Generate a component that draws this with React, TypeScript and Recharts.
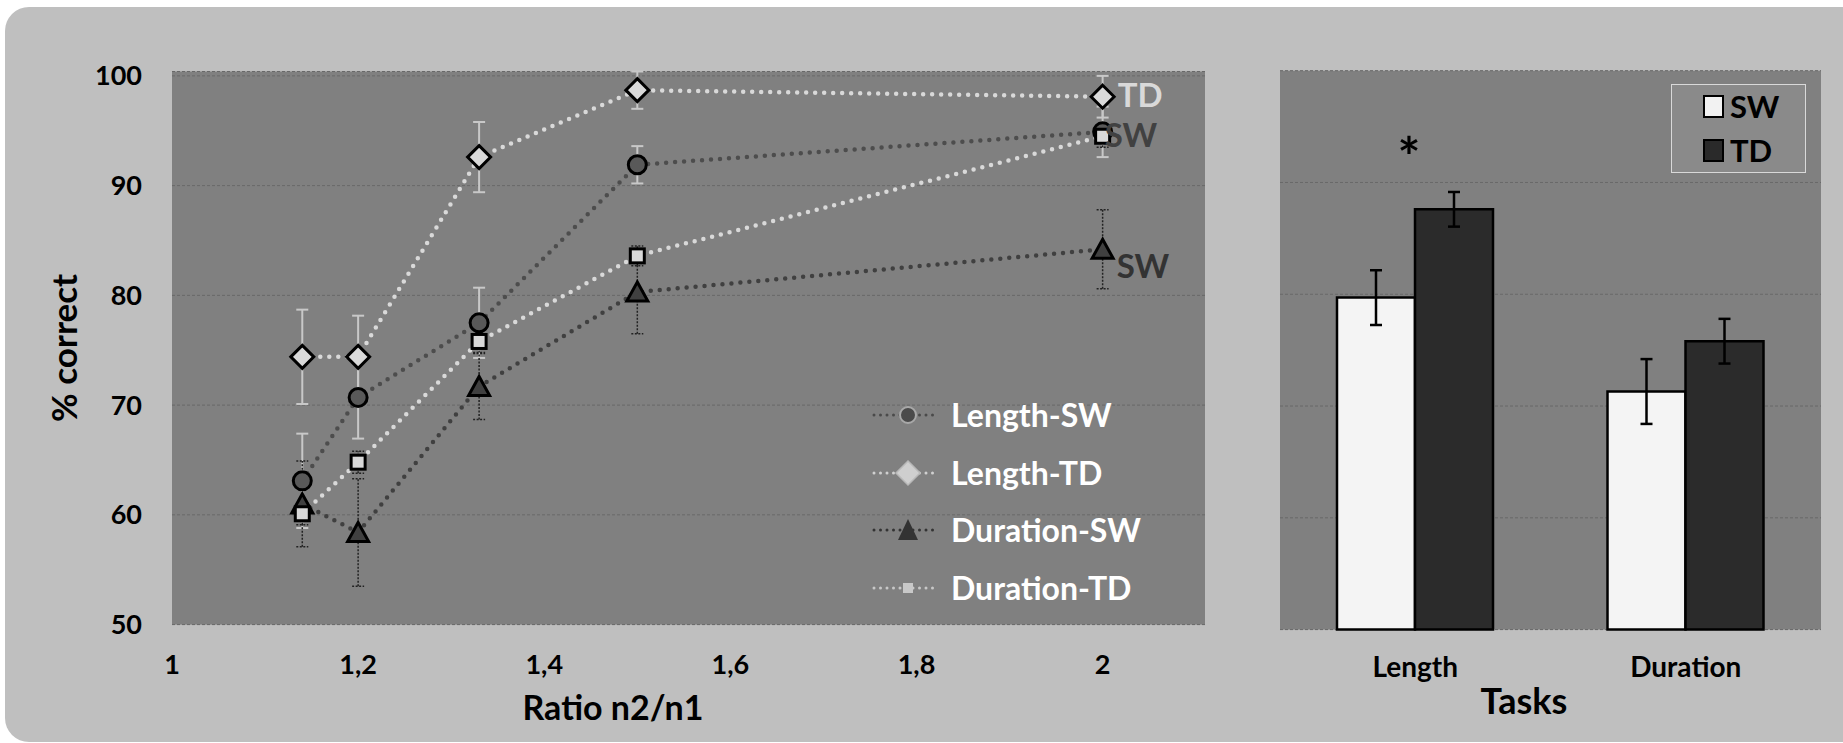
import React from "react";
import {
  LineChart,
  Line,
  BarChart,
  Bar,
  XAxis,
  YAxis,
  CartesianGrid,
  ErrorBar,
  Legend,
  LabelList,
} from "recharts";

// left panel: % correct by ratio n2/n1
const ratios = [1.14, 1.2, 1.33, 1.5, 2];
const lengthSW = [63.1, 70.7, 77.5, 91.9, 94.9];
const lengthSWErr = [4.3, 3.75, 3.2, 1.7, 2.3];
const lengthTD = [74.4, 74.4, 92.6, 98.7, 98.1];
const lengthTDErr = [4.3, 3.75, 3.2, 1.7, 1.9];
const durationSW = [61.0, 58.4, 71.7, 80.3, 84.2];
const durationSWErr = [3.9, 4.9, 3.0, 3.8, 3.6];
const durationTD = [60.1, 64.8, 75.8, 83.6, 94.5];
const durationTDErr = [1.0, 1.0, 1.0, 0.9, 1.0];
const ratioTicks = [1, 1.2, 1.4, 1.6, 1.8, 2];
const pctTicks = [50, 60, 70, 80, 90, 100];
const seriesNames = ["Length-SW", "Length-TD", "Duration-SW", "Duration-TD"];

// right panel: mean by task
const tasks = ["Length", "Duration"];
const taskSW = [79.7, 71.3];
const taskSWErr = [2.45, 2.9];
const taskTD = [87.6, 75.8];
const taskTDErr = [1.55, 2.0];
const groupNames = ["SW", "TD"];

const lineData = ratios.map((r, i) => ({
  ratio: r,
  lengthSW: lengthSW[i],
  lengthSWErr: lengthSWErr[i],
  lengthTD: lengthTD[i],
  lengthTDErr: lengthTDErr[i],
  durationSW: durationSW[i],
  durationSWErr: durationSWErr[i],
  durationTD: durationTD[i],
  durationTDErr: durationTDErr[i],
}));

const barData = tasks.map((t, i) => ({
  task: t,
  sw: taskSW[i],
  swErr: taskSWErr[i],
  td: taskTD[i],
  tdErr: taskTDErr[i],
}));

const FONT = "Lato, 'Open Sans', sans-serif";
const PLOT_BG = "#808080";
const GRID = "#686868";

const circleDot = (p: any) => (
  <circle key={`c${p.index}`} cx={p.cx} cy={p.cy} r={9} fill="#595959" stroke="#000" strokeWidth={3} />
);
const diamondDot = (p: any) => (
  <polygon
    key={`d${p.index}`}
    points={`${p.cx},${p.cy - 11.5} ${p.cx + 11.5},${p.cy} ${p.cx},${p.cy + 11.5} ${p.cx - 11.5},${p.cy}`}
    fill="#d9d9d9"
    stroke="#000"
    strokeWidth={3}
  />
);
const triangleDot = (p: any) => (
  <polygon
    key={`t${p.index}`}
    points={`${p.cx},${p.cy - 10} ${p.cx + 10.5},${p.cy + 9} ${p.cx - 10.5},${p.cy + 9}`}
    fill="#404040"
    stroke="#000"
    strokeWidth={3}
  />
);
const squareDot = (p: any) => (
  <rect key={`s${p.index}`} x={p.cx - 7} y={p.cy - 7} width={14} height={14} fill="#d9d9d9" stroke="#000" strokeWidth={3} />
);

const endLabel = (text: string, color: string, dx: number, dy: number) => (p: any) =>
  p.index === ratios.length - 1 ? (
    <text
      x={p.x + dx}
      y={p.y + dy}
      fill={color}
      fontFamily={FONT}
      fontWeight={700}
      fontSize={33}
      dominantBaseline="central"
    >
      {text}
    </text>
  ) : null;

const legendIcons = [
  { line: "#4a4a4a", icon: <circle cx={36} cy={15} r={8} fill="#4a4a4a" stroke="#a8a8a8" strokeWidth={2} /> },
  { line: "#d0d0d0", icon: <polygon points="36,3 48,15 36,27 24,15" fill="#cfcfcf" stroke="#b8b8b8" strokeWidth={1.5} /> },
  { line: "#333", icon: <polygon points="36,4 46,25 26,25" fill="#333" /> },
  { line: "#c8c8c8", icon: <rect x={31} y={10} width={10} height={10} fill="#c8c8c8" /> },
];

function LineLegend() {
  return (
    <div style={{ display: "flex", flexDirection: "column" }}>
      {seriesNames.map((name, i) => (
        <div key={name} style={{ display: "flex", alignItems: "center", height: 57.7 }}>
          <svg width={68} height={30}>
            <line
              x1={2}
              x2={66}
              y1={15}
              y2={15}
              stroke={legendIcons[i].line}
              strokeWidth={3}
              strokeDasharray="0 6.5"
              strokeLinecap="round"
            />
            {legendIcons[i].icon}
          </svg>
          <span style={{ marginLeft: 11, color: "#fff", fontFamily: FONT, fontWeight: 700, fontSize: 32, lineHeight: 1 }}>
            {name}
          </span>
        </div>
      ))}
    </div>
  );
}

function BarLegend() {
  const fills = ["#f2f2f2", "#2a2a2a"];
  return (
    <div
      style={{
        width: 135,
        height: 89,
        background: "#8a8a8a",
        border: "1px solid #d9d9d9",
        boxSizing: "border-box",
        display: "flex",
        flexDirection: "column",
        justifyContent: "center",
        paddingLeft: 31,
      }}
    >
      {groupNames.map((g, i) => (
        <div key={g} style={{ display: "flex", alignItems: "center", height: 44 }}>
          <div style={{ width: 17, height: 19, background: fills[i], border: "2px solid #000" }} />
          <span style={{ marginLeft: 6, color: "#000", fontFamily: FONT, fontWeight: 700, fontSize: 31, lineHeight: 1 }}>{g}</span>
        </div>
      ))}
    </div>
  );
}

const tickStyle = { fill: "#000", fontFamily: FONT, fontWeight: 700, fontSize: 27 };
const dotted = { strokeDasharray: "0 9", strokeLinecap: "round" as const, strokeWidth: 4.5 };

export default function App() {
  return (
    <div style={{ position: "absolute", left: 0, top: 0, width: 1843, height: 743, background: "#fff", overflow: "hidden" }}>
      <div
        style={{
          position: "absolute",
          left: 5,
          top: 7,
          width: 1860,
          height: 735,
          borderRadius: 24,
          background: "#bfbfbf",
        }}
      />
      <div style={{ position: "absolute", left: 0, top: 0 }}>
        <LineChart width={1230} height={743} data={lineData} margin={{ top: 71.5, right: 25, bottom: 0, left: 0 }}>
          <CartesianGrid vertical={false} stroke={GRID} strokeDasharray="3 2" fill={PLOT_BG} fillOpacity={1} />
          <XAxis
            type="number"
            dataKey="ratio"
            domain={[1, 2.11]}
            ticks={ratioTicks}
            tickFormatter={(v) => String(v).replace(".", ",")}
            height={118.4}
            tickLine={false}
            axisLine={false}
            tickSize={0}
            tickMargin={30}
            tick={tickStyle}
          />
          <YAxis
            domain={[50, 100]}
            ticks={pctTicks}
            width={172}
            tickLine={false}
            axisLine={false}
            tickSize={0}
            tickMargin={30}
            tick={tickStyle}
          />
          <Line dataKey="lengthSW" stroke="#4d4d4d" {...dotted} dot={circleDot} isAnimationActive={false}>
            <ErrorBar dataKey="lengthSWErr" direction="y" width={6} stroke="#c8c8c8" strokeWidth={2} />
            <LabelList dataKey="lengthSW" content={endLabel("SW", "#414141", 2, 2)} />
          </Line>
          <Line dataKey="lengthTD" stroke="#d9d9d9" {...dotted} dot={diamondDot} isAnimationActive={false}>
            <ErrorBar dataKey="lengthTDErr" direction="y" width={6} stroke="#c8c8c8" strokeWidth={2} />
            <LabelList dataKey="lengthTD" content={endLabel("TD", "#d9d9d9", 15, -3)} />
          </Line>
          <Line dataKey="durationSW" stroke="#404040" {...dotted} dot={triangleDot} isAnimationActive={false}>
            <ErrorBar dataKey="durationSWErr" direction="y" width={6} stroke="#222" strokeWidth={1.5} strokeDasharray="2 1.5" />
            <LabelList dataKey="durationSW" content={endLabel("SW", "#333", 14, 16)} />
          </Line>
          <Line dataKey="durationTD" stroke="#d9d9d9" {...dotted} dot={squareDot} isAnimationActive={false}>
            <ErrorBar dataKey="durationTDErr" direction="y" width={6} stroke="#222" strokeWidth={1.5} strokeDasharray="2 1.5" />
          </Line>
          <Legend
            layout="vertical"
            verticalAlign="middle"
            align="center"
            wrapperStyle={{ left: 872, top: 386, width: 330 }}
            content={() => <LineLegend />}
          />
        </LineChart>
      </div>
      <div style={{ position: "absolute", left: 1230, top: 0 }}>
        <BarChart
          width={613}
          height={743}
          data={barData}
          margin={{ top: 70.7, right: 22, bottom: 0, left: 50 }}
          barGap={0}
          barSize={78}
        >
          <CartesianGrid vertical={false} stroke={GRID} strokeDasharray="3 2" fill={PLOT_BG} fillOpacity={1} />
          <XAxis
            dataKey="task"
            height={113.4}
            tickLine={false}
            axisLine={false}
            tickSize={0}
            tickMargin={28}
            tick={{ ...tickStyle, fontSize: 28 }}
          />
          <YAxis hide domain={[50, 100]} ticks={pctTicks} />
          <Bar dataKey="sw" fill="#f4f4f4" stroke="#000" strokeWidth={2.5} isAnimationActive={false}>
            <ErrorBar dataKey="swErr" direction="y" width={6} stroke="#000" strokeWidth={2.5} />
          </Bar>
          <Bar dataKey="td" fill="#2b2b2b" stroke="#000" strokeWidth={2.5} isAnimationActive={false}>
            <ErrorBar dataKey="tdErr" direction="y" width={6} stroke="#000" strokeWidth={2.5} />
          </Bar>
          <Legend
            layout="vertical"
            verticalAlign="middle"
            align="center"
            wrapperStyle={{ left: 441, top: 84, width: 135 }}
            content={() => <BarLegend />}
          />
        </BarChart>
      </div>
      <svg width={1843} height={743} style={{ position: "absolute", left: 0, top: 0, pointerEvents: "none" }}>
        <text
          transform="translate(63,348) rotate(-90)"
          textAnchor="middle"
          dominantBaseline="central"
          fontFamily={FONT}
          fontWeight={700}
          fontSize={35}
          fill="#000"
        >
          % correct
        </text>
        <text x={613} y={706} textAnchor="middle" dominantBaseline="central" fontFamily={FONT} fontWeight={700} fontSize={34} fill="#000">
          Ratio n2/n1
        </text>
        <text x={1524} y={700} textAnchor="middle" dominantBaseline="central" fontFamily={FONT} fontWeight={700} fontSize={36} fill="#000">
          Tasks
        </text>
        <text x={1409} y={176} textAnchor="middle" fontFamily={FONT} fontWeight={700} fontSize={54} fill="#000">
          *
        </text>
      </svg>
    </div>
  );
}
